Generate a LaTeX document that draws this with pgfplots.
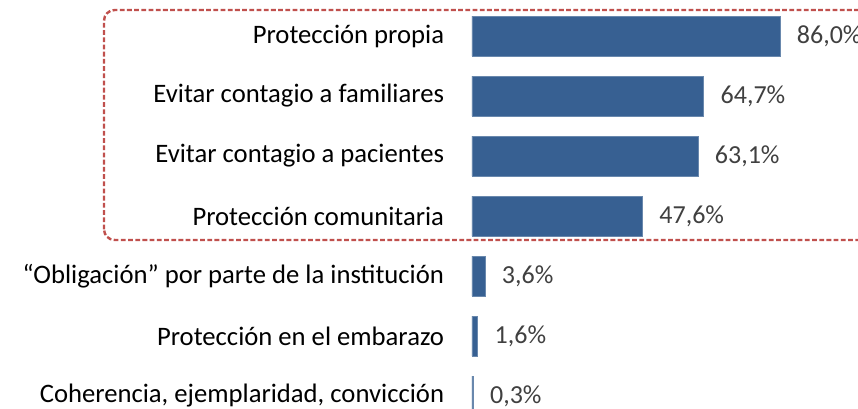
\documentclass[border=0pt]{standalone}
\usepackage{fontspec}
\setmainfont{Carlito}
\usepackage{pgfplots}
\pgfplotsset{compat=1.18}
\definecolor{barblue}{HTML}{376092}
\definecolor{boxred}{HTML}{C0504D}
\definecolor{valgray}{HTML}{404040}
\begin{document}
\begin{tikzpicture}
\clip (0pt,0pt) rectangle (643.5pt,306pt);
\begin{axis}[
  at={(354pt,0pt)}, anchor=south west,
  scale only axis, width=289.5pt, height=306pt,
  xmin=0, xmax=107.8, ymin=-0.6, ymax=6.2,
  y dir=reverse,
  xbar, bar width=30pt,
  hide x axis,
  axis y line*=left,
  y axis line style={draw=none},
  ytick style={draw=none},
  ytick={0,...,6},
  yticklabels={Protección propia, Evitar contagio a familiares, Evitar contagio a pacientes, Protección comunitaria, “Obligación” por parte de la institución, Protección en el embarazo, {Coherencia, ejemplaridad, convicción}},
  yticklabel style={font=\fontsize{20}{22}\selectfont, text=black, inner sep=0pt, xshift=-16.5pt},
  /pgf/number format/assume math mode=true,
  nodes near coords={\pgfmathprintnumber[fixed, fixed zerofill, precision=1, use comma]{\pgfplotspointmeta}\%},
  nodes near coords align={horizontal},
  every node near coord/.append style={font=\fontsize{19.5}{22}\selectfont, text=valgray, anchor=west, inner sep=0pt, xshift=12.5pt},
]
\addplot[fill=barblue, draw=barblue!75!white, line width=0.5pt] coordinates {(86.0,0) (64.7,1) (63.1,2) (47.6,3) (3.6,4) (1.6,5) (0.3,6)};
\end{axis}
\draw[boxred, line width=1.8pt, dash pattern=on 3.6pt off 1.8pt, rounded corners=8pt] (78pt,126pt) rectangle (660pt,298.5pt);
\end{tikzpicture}
\end{document}
